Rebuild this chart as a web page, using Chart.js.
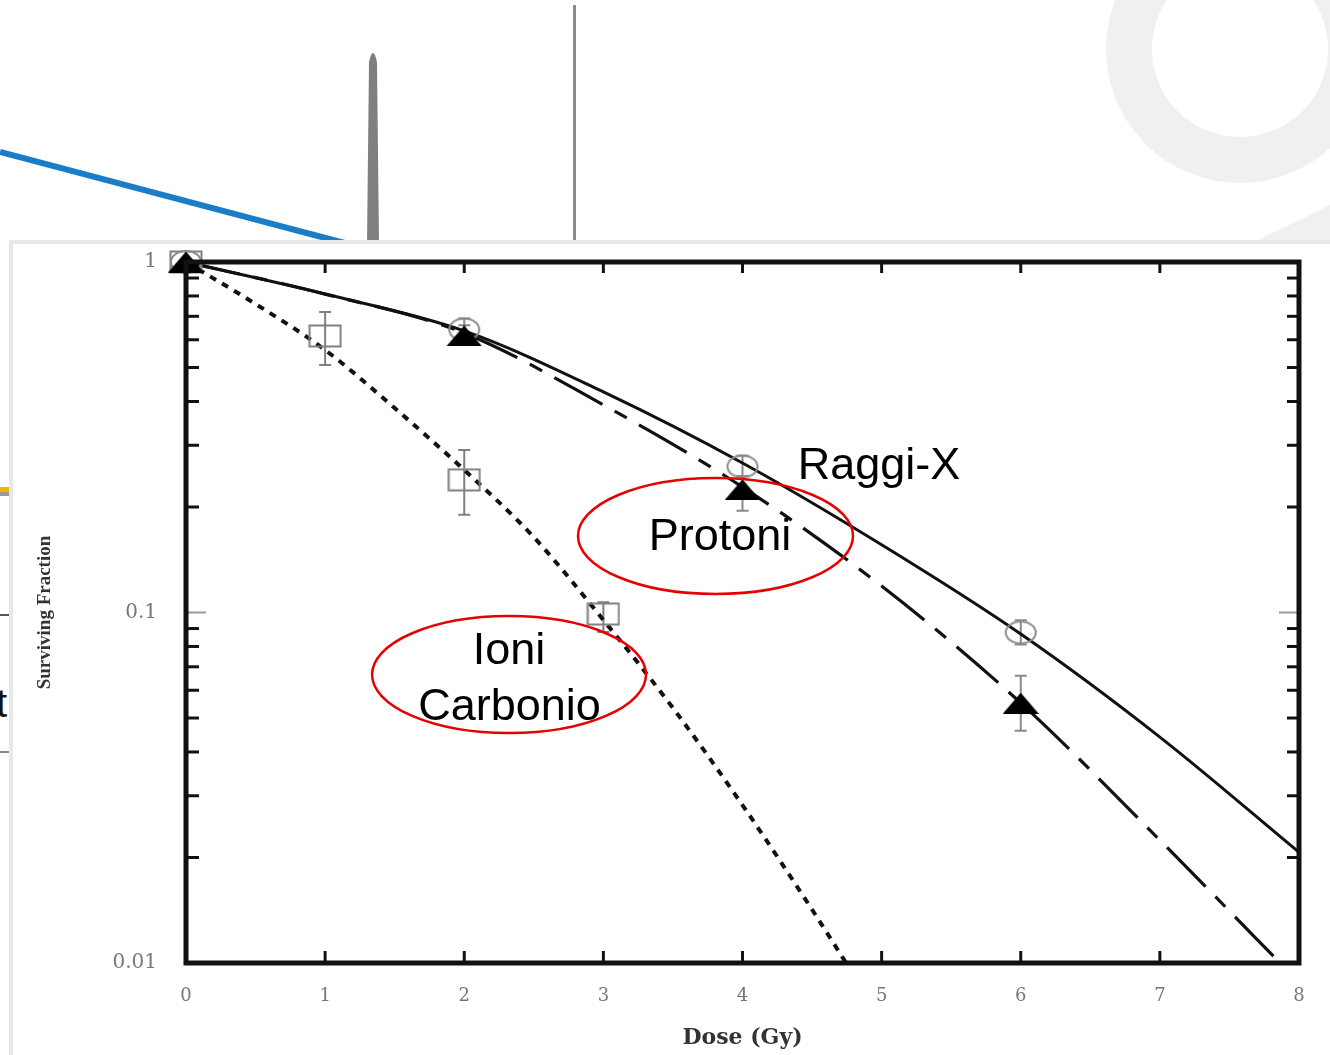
<!DOCTYPE html>
<html>
<head>
<meta charset="utf-8">
<title>Surviving Fraction</title>
<script src="https://cdn.jsdelivr.net/npm/chart.js@4.4.1/dist/chart.umd.min.js"></script>
<style>
  html, body { margin: 0; padding: 0; background: #fff; }
  #page { position: relative; width: 1330px; height: 1055px; overflow: hidden; background: #fff; }
  #slide { position: absolute; left: 0; top: 0; }
  #figure { position: absolute; left: 9px; top: 240px; width: 1330px; height: 811px; background: #fff;
            border: 4px solid #e8e8e8; border-right: none; }
  #chart { position: absolute; left: 0; top: 0; }
</style>
</head>
<body>
<div id="page">
  <!-- slide background behind the figure -->
  <svg id="slide" width="1330" height="1055">
    <circle cx="1240" cy="49" r="111" fill="none" stroke="#f0f0f0" stroke-width="46"/>
    <polygon points="1250,244 1330,205 1330,244" fill="#f0f0f0"/>
    <line x1="0" y1="152" x2="352" y2="245" stroke="#1b7cc8" stroke-width="6"/>
    <path d="M367,245 L369,62 Q373,44 377,62 L379,245 Z" fill="#7f7f7f"/>
    <rect x="573" y="5" width="3" height="240" fill="#8c8c8c"/>
    <rect x="0" y="487" width="10" height="5" fill="#f2b600"/>
    <rect x="0" y="492" width="10" height="4" fill="#9a9a9a"/>
    <rect x="0" y="614" width="10" height="2" fill="#555"/>
    <text x="-4" y="717" font-family="Liberation Sans" font-size="40" fill="#111">t</text>
    <rect x="0" y="751" width="10" height="2" fill="#888"/>
  </svg>
  <div id="figure"></div>
  <canvas id="chart" width="1330" height="1055"></canvas>
</div>

<script>
// fitted curves
const doses = [0, 1, 2, 3, 4, 5, 6, 7, 8];
const xrayCurve = [1, 0.81, 0.636, 0.426, 0.267, 0.156, 0.0868, 0.0441, 0.0207];
const protonCurve = [1, 0.81, 0.627, 0.391, 0.228, 0.119, 0.0552, 0.0224, 0.0088];
const carbonDoses = [0, 0.5, 1, 1.5, 2, 2.5, 3, 3.5, 4, 4.5, 5];
const carbonCurve = [1, 0.759, 0.561, 0.383, 0.255, 0.164, 0.0952, 0.0534, 0.0282, 0.0142, 0.0069];

// measured points with error bars
const xrayDoses = [0, 2, 4, 6];
const xrayPoints = [1, 0.642, 0.261, 0.0877];
const xrayLow = [null, 0.60, 0.245, 0.081];
const xrayHigh = [null, 0.69, 0.28, 0.095];

const protonDoses = [0, 2, 4, 6];
const protonPoints = [1, 0.615, 0.224, 0.0551];
const protonLow = [null, 0.58, 0.195, 0.046];
const protonHigh = [null, 0.66, 0.245, 0.066];

const carbonPtDoses = [0, 1, 2, 3];
const carbonPoints = [1, 0.615, 0.239, 0.099];
const carbonLow = [null, 0.508, 0.19, 0.088];
const carbonHigh = [null, 0.72, 0.291, 0.107];

// ticks
const xTicks = [0, 1, 2, 3, 4, 5, 6, 7, 8];
const xTickLabels = ['0', '1', '2', '3', '4', '5', '6', '7', '8'];
const yTicks = [0.01, 0.1, 1];
const yTickLabels = ['0.01', '0.1', '1'];
const yMinorTicks = [0.02, 0.03, 0.04, 0.05, 0.06, 0.07, 0.08, 0.09, 0.2, 0.3, 0.4, 0.5, 0.6, 0.7, 0.8, 0.9];

const toXY = (xs, ys) => xs.map((x, i) => ({ x: x, y: ys[i] }));

// marker glyphs as small canvases
function makeMarker(w, h, draw) {
    const c = document.createElement('canvas');
    c.width = w;
    c.height = h;
    draw(c.getContext('2d'), w, h);
    return c;
}
const squareMarker = makeMarker(34, 24, (g, w, h) => {
    g.strokeStyle = '#808080';
    g.lineWidth = 2;
    g.strokeRect(1.5, 1.5, w - 3, h - 3);
});
const circleMarker = makeMarker(34, 26, (g, w, h) => {
    g.strokeStyle = '#8a8a8a';
    g.lineWidth = 2;
    g.beginPath();
    g.ellipse(w / 2, h / 2, w / 2 - 2, h / 2 - 2, 0, 0, Math.PI * 2);
    g.stroke();
});
const triangleMarker = makeMarker(36, 21, (g, w, h) => {
    g.fillStyle = '#000';
    g.beginPath();
    g.moveTo(w / 2, 0);
    g.lineTo(w, h);
    g.lineTo(0, h);
    g.closePath();
    g.fill();
});

const errorSeries = [
    { xs: xrayDoses, low: xrayLow, high: xrayHigh, color: '#8a8a8a' },
    { xs: protonDoses, low: protonLow, high: protonHigh, color: '#8a8a8a' },
    { xs: carbonPtDoses, low: carbonLow, high: carbonHigh, color: '#808080' }
];

// labels placed in data units
const notes = [
    { text: 'Raggi-X', x: 4.397, y: 0.2404, align: 'left' },
    { text: 'Protoni', x: 3.838, y: 0.1508, align: 'center' },
    { text: 'Ioni', x: 2.322, y: 0.0713, align: 'center' },
    { text: 'Carbonio', x: 2.325, y: 0.0494, align: 'center' }
];
const rings = [
    { x: 3.806, y: 0.1653, rx: 137.5, ry: 58 },
    { x: 2.322, y: 0.0665, rx: 137, ry: 58.5 }
];

const framePlugin = {
    id: 'frame',
    beforeDatasetsDraw(chart) {
        const { ctx, scales: { x, y } } = chart;
        ctx.save();
        ctx.lineWidth = 2;
        errorSeries.forEach(s => {
            ctx.strokeStyle = s.color;
            s.xs.forEach((d, i) => {
                if (s.low[i] == null) return;
                const px = x.getPixelForValue(d);
                const y1 = y.getPixelForValue(s.high[i]);
                const y2 = y.getPixelForValue(s.low[i]);
                ctx.beginPath();
                ctx.moveTo(px, y1); ctx.lineTo(px, y2);
                ctx.moveTo(px - 6, y1); ctx.lineTo(px + 6, y1);
                ctx.moveTo(px - 6, y2); ctx.lineTo(px + 6, y2);
                ctx.stroke();
            });
        });
        ctx.restore();
    },
    afterDraw(chart) {
        const { ctx, chartArea: a, scales: { x, y } } = chart;
        const seg = (x1, y1, x2, y2) => { ctx.beginPath(); ctx.moveTo(x1, y1); ctx.lineTo(x2, y2); ctx.stroke(); };
        ctx.save();
        // thin gray major tick at 0.1, under the frame
        ctx.strokeStyle = '#9a9a9a';
        ctx.lineWidth = 2;
        yTicks.slice(1, -1).forEach(v => {
            const py = y.getPixelForValue(v);
            seg(a.left, py, a.left + 20, py);
            seg(a.right, py, a.right - 20, py);
        });

        ctx.strokeStyle = '#111';
        ctx.lineWidth = 5;
        ctx.strokeRect(a.left, a.top, a.right - a.left, a.bottom - a.top);

        ctx.lineWidth = 3;
        xTicks.slice(1, -1).forEach(v => {
            const px = x.getPixelForValue(v);
            seg(px, a.bottom, px, a.bottom - 12);
            seg(px, a.top, px, a.top + 11);
        });
        yMinorTicks.forEach(v => {
            const py = y.getPixelForValue(v);
            seg(a.left, py, a.left + 13, py);
            seg(a.right, py, a.right - 12, py);
        });

        // red ellipses and labels
        ctx.strokeStyle = '#e60000';
        ctx.lineWidth = 2.5;
        rings.forEach(r => {
            ctx.beginPath();
            ctx.ellipse(x.getPixelForValue(r.x), y.getPixelForValue(r.y), r.rx, r.ry, 0, 0, Math.PI * 2);
            ctx.stroke();
        });
        ctx.fillStyle = '#000';
        ctx.font = '45px "Liberation Sans", Arial, sans-serif';
        ctx.textBaseline = 'alphabetic';
        notes.forEach(n => {
            ctx.textAlign = n.align;
            ctx.fillText(n.text, x.getPixelForValue(n.x), y.getPixelForValue(n.y));
        });
        ctx.restore();
    }
};

const ctx = document.getElementById('chart').getContext('2d');
new Chart(ctx, {
    type: 'line',
    data: {
        datasets: [
            {
                label: 'Protoni (dati)',
                data: toXY(protonDoses, protonPoints),
                showLine: false,
                pointStyle: triangleMarker,
                pointRadius: 10,
                clip: false
            },
            {
                label: 'Raggi-X (dati)',
                data: toXY(xrayDoses, xrayPoints),
                showLine: false,
                pointStyle: circleMarker,
                pointRadius: 10,
                clip: false
            },
            {
                label: 'Ioni Carbonio (dati)',
                data: toXY(carbonPtDoses, carbonPoints),
                showLine: false,
                pointStyle: squareMarker,
                pointRadius: 10,
                clip: false
            },
            {
                label: 'Raggi-X',
                data: toXY(doses, xrayCurve),
                borderColor: '#111',
                borderWidth: 3,
                pointRadius: 0,
                cubicInterpolationMode: 'monotone'
            },
            {
                label: 'Protoni',
                data: toXY(doses, protonCurve),
                borderColor: '#111',
                borderWidth: 3.2,
                borderDash: [55, 14, 14, 14],
                pointRadius: 0,
                cubicInterpolationMode: 'monotone'
            },
            {
                label: 'Ioni Carbonio',
                data: toXY(carbonDoses, carbonCurve),
                borderColor: '#111',
                borderWidth: 4,
                borderDash: [7, 7],
                pointRadius: 0,
                cubicInterpolationMode: 'monotone'
            }
        ]
    },
    options: {
        responsive: false,
        animation: false,
        layout: { padding: { left: 30, right: 31, top: 262, bottom: 0 } },
        plugins: {
            legend: { display: false },
            tooltip: { enabled: false }
        },
        scales: {
            x: {
                type: 'linear',
                min: 0,
                max: 8,
                grid: { display: false, drawTicks: false },
                border: { display: false },
                afterBuildTicks: s => { s.ticks = xTicks.map(v => ({ value: v })); },
                afterFit: s => { s.height = 92; },
                ticks: {
                    callback: (v, i) => xTickLabels[i],
                    color: '#777',
                    font: { family: 'DejaVu Serif', size: 18 },
                    padding: 23,
                    maxRotation: 0,
                    autoSkip: false
                },
                title: {
                    display: true,
                    text: 'Dose (Gy)',
                    color: '#333',
                    font: { family: 'DejaVu Serif', size: 22, weight: 'bold' },
                    padding: { top: 4, bottom: 4 }
                }
            },
            y: {
                type: 'logarithmic',
                min: 0.01,
                max: 1,
                grid: { display: false, drawTicks: false },
                border: { display: false },
                afterBuildTicks: s => { s.ticks = yTicks.map(v => ({ value: v })); },
                afterFit: s => { s.width = 156; },
                ticks: {
                    callback: (v, i) => yTickLabels[i],
                    color: '#777',
                    font: { family: 'DejaVu Serif', size: 20 },
                    padding: 29,
                    autoSkip: false
                },
                title: {
                    display: true,
                    text: 'Surviving Fraction',
                    color: '#333',
                    font: { family: 'Liberation Serif', size: 19, weight: 'bold' },
                    padding: { top: 4, bottom: 4 }
                }
            }
        }
    },
    plugins: [framePlugin]
});
</script>
</body>
</html>
